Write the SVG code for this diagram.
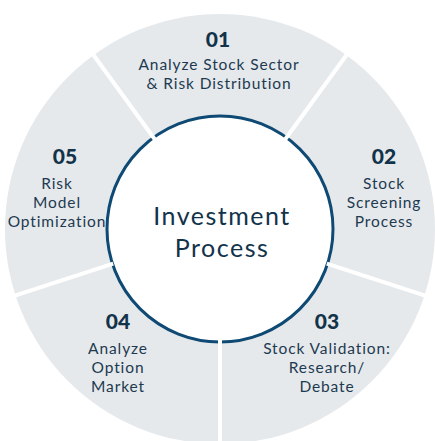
<svg xmlns="http://www.w3.org/2000/svg" width="435" height="441" viewBox="0 0 435 441">
<style>
.seg{fill:#e6e9ec}
.num{font-family:Lato,"Liberation Sans",sans-serif;font-weight:900;font-size:21px;fill:#12334a;text-anchor:middle}
.lbl{font-family:Lato,"Liberation Sans",sans-serif;font-size:15.5px;fill:#1d3a50;text-anchor:middle;letter-spacing:0.9px}
.ctr{font-family:Lato,"Liberation Sans",sans-serif;font-size:25px;fill:#12334a;text-anchor:middle;letter-spacing:1.5px}
.gap{stroke:#ffffff;stroke-width:4}
</style>
<rect width="435" height="441" fill="#ffffff"/>
<g id="ring">
<circle cx="220" cy="229" r="215" class="seg"/>
<circle cx="220" cy="229" r="113" fill="#ffffff" stroke="#0e4a74" stroke-width="3"/>
</g>
<g id="connectors">
<line class="gap" x1="220" y1="336" x2="220" y2="450"/>
<line class="gap" x1="113.2" y1="263.7" x2="8" y2="297.9"/>
<line class="gap" x1="157.1" y1="142.5" x2="91.5" y2="52.3"/>
<line class="gap" x1="282.9" y1="142.5" x2="348.5" y2="52.3"/>
<line class="gap" x1="326.8" y1="263.7" x2="432" y2="297.9"/>
</g>
<g id="center">
<text class="ctr" x="222" y="225">Investment</text>
<text class="ctr" x="222" y="257">Process</text>
</g>
<g id="step01">
<text class="num" x="218" y="47">01</text>
<text class="lbl" x="219" y="70">Analyze Stock Sector</text>
<text class="lbl" x="219" y="89">&amp; Risk Distribution</text>
</g>
<g id="step02">
<text class="num" x="384" y="164">02</text>
<text class="lbl" x="384" y="189">Stock</text>
<text class="lbl" x="384" y="208">Screening</text>
<text class="lbl" x="384" y="227">Process</text>
</g>
<g id="step03">
<text class="num" x="327" y="329">03</text>
<text class="lbl" x="327" y="354">Stock Validation:</text>
<text class="lbl" x="327" y="373">Research/</text>
<text class="lbl" x="327" y="392">Debate</text>
</g>
<g id="step04">
<text class="num" x="118" y="329">04</text>
<text class="lbl" x="118" y="354">Analyze</text>
<text class="lbl" x="118" y="373">Option</text>
<text class="lbl" x="118" y="392">Market</text>
</g>
<g id="step05">
<text class="num" x="65" y="164">05</text>
<text class="lbl" x="57" y="189">Risk</text>
<text class="lbl" x="57" y="208">Model</text>
<text class="lbl" x="57" y="227">Optimization</text>
</g>
</svg>
